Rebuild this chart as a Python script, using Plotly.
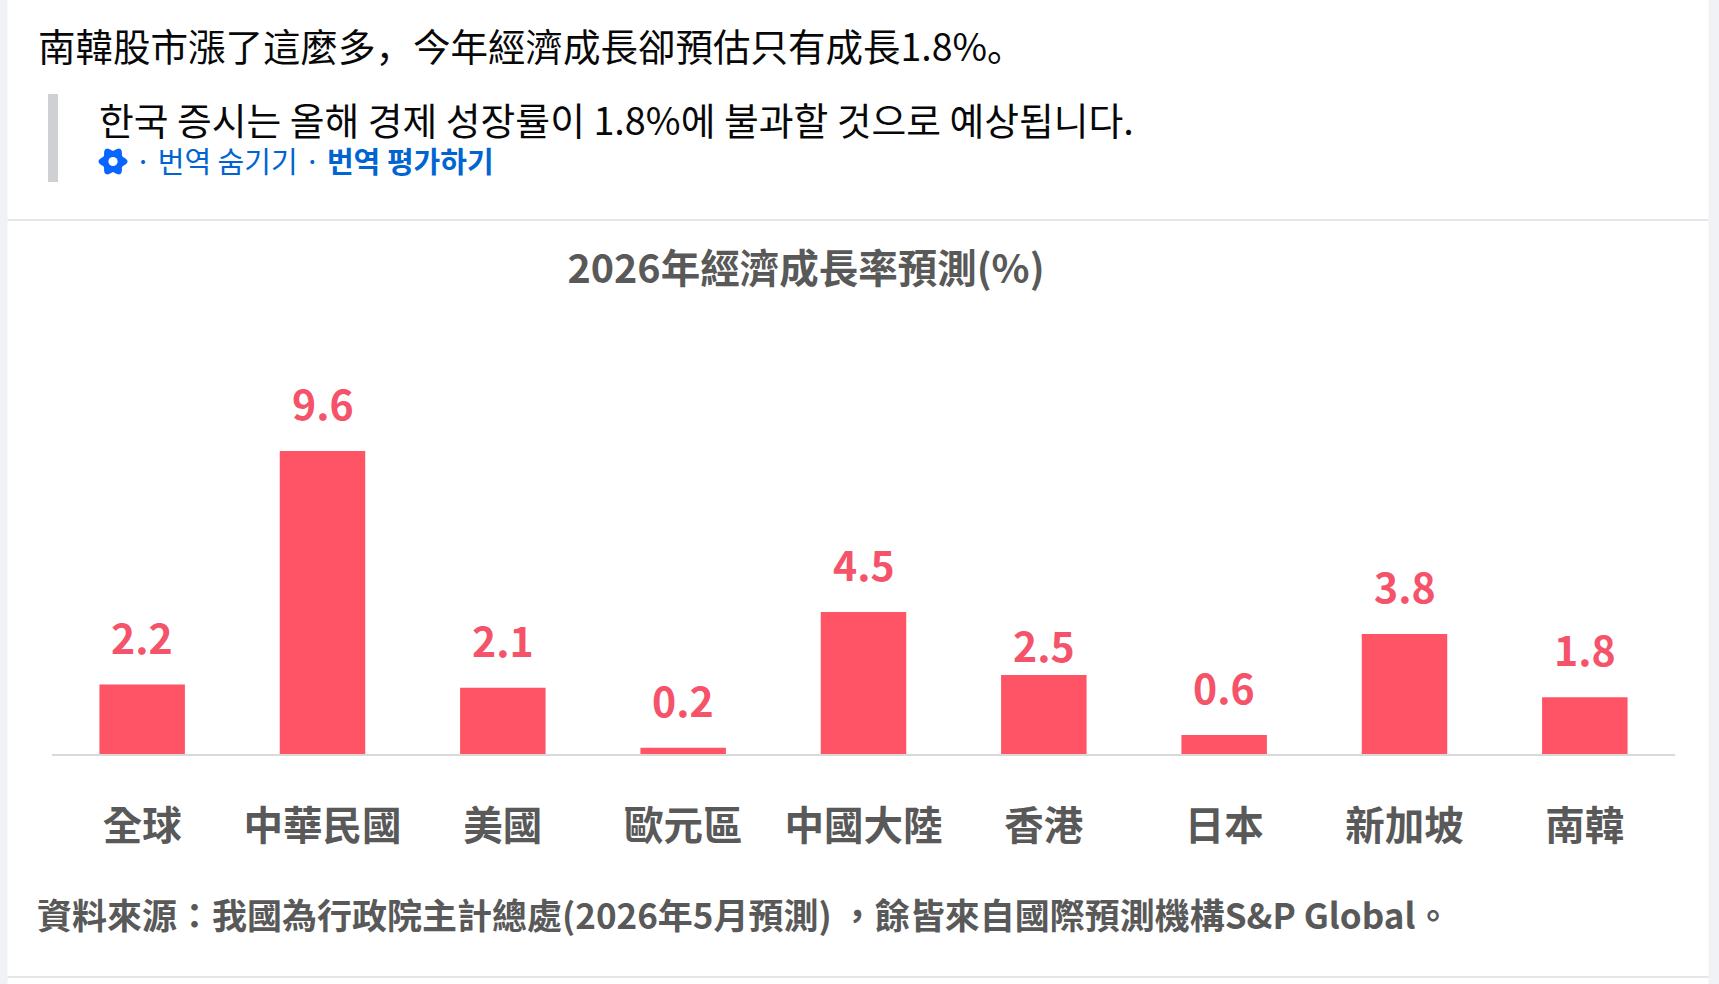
import math
import plotly.graph_objects as go

# ---- data ----
categories = ["全球", "中華民國", "美國", "歐元區", "中國大陸", "香港", "日本", "新加坡", "南韓"]
growth_2026 = [2.2, 9.6, 2.1, 0.2, 4.5, 2.5, 0.6, 3.8, 1.8]
value_labels = [f"{v:.1f}" for v in growth_2026]

post_text = "南韓股市漲了這麼多，今年經濟成長卻預估只有成長1.8%。"
translated_text = "한국 증시는 올해 경제 성장률이 1.8%에 불과할 것으로 예상됩니다."
translate_links = "· 번역 숨기기 · <b>번역 평가하기</b>"
chart_title = "2026年經濟成長率預測(%)"
source_note = "資料來源：我國為行政院主計總處(2026年5月預測) ，餘皆來自國際預測機構S&P Global。"

# ---- layout geometry (pixels) ----
W, H = 1719, 984
L, R, T, B = 52, 1675, 300, 754
PX_PER_UNIT = 31.56
YMAX = (B - T) / PX_PER_UNIT

def px(x):
    return (x - L) / (R - L)

def py(y):
    return (B - y) / (B - T)

BAR = "#FF5366"
LABEL_RED = "#F5536A"
GRAY_TXT = "#595959"
TC = "Noto Sans CJK TC"
SC = "Noto Sans CJK SC"
KR = "Noto Sans CJK KR"

# the source chart sets the 香港 label a little lower than the others
label_shift = {"香港": -18}

fig = go.Figure()
fig.add_trace(go.Bar(
    x=categories, y=growth_2026,
    marker=dict(color=BAR, line=dict(width=0)),
    hoverinfo="skip",
))

annotations = []
for c, v, t in zip(categories, growth_2026, value_labels):
    annotations.append(dict(
        x=c, y=v, xref="x", yref="y", text=t, showarrow=False,
        yanchor="bottom", yshift=17 + label_shift.get(c, 0),
        font=dict(family=TC, size=41, color=LABEL_RED, weight=700),
    ))

# header texts
annotations += [
    dict(x=px(36), y=py(44), xref="paper", yref="paper", text=post_text,
         showarrow=False, xanchor="left", yanchor="middle",
         font=dict(family=SC, size=37.5, color="#080809")),
    dict(x=px(97), y=py(118), xref="paper", yref="paper", text=translated_text,
         showarrow=False, xanchor="left", yanchor="middle", height=42,
         font=dict(family=KR, size=37.8, color="#080809")),
    dict(x=px(133), y=py(160), xref="paper", yref="paper", text=translate_links,
         showarrow=False, xanchor="left", yanchor="middle", height=34,
         font=dict(family=KR, size=29, color="#0064D1")),
    dict(x=px(35), y=py(913), xref="paper", yref="paper", text=source_note,
         showarrow=False, xanchor="left", yanchor="middle",
         font=dict(family=TC, size=35, color=GRAY_TXT, weight=700)),
]

# gear icon path (pixel-sized, relative to anchor)
pts = []
for k in range(97):
    th = 2 * math.pi * k / 96
    r = 12.6 + 1.9 * math.cos(6 * th)
    pts.append((r * math.cos(th), r * math.sin(th)))
gear_path = "M " + " L ".join(f"{x:.2f},{y:.2f}" for x, y in pts) + " Z"

shapes = [
    # page background strips
    dict(type="rect", xref="paper", yref="paper", x0=px(0), x1=px(7.5), y0=py(0), y1=py(H),
         fillcolor="#F0F2F5", line=dict(width=0), layer="below"),
    dict(type="rect", xref="paper", yref="paper", x0=px(1708.5), x1=px(W), y0=py(0), y1=py(H),
         fillcolor="#F0F2F5", line=dict(width=0), layer="below"),
    # separator lines
    dict(type="line", xref="paper", yref="paper", x0=px(7.5), x1=px(1708.5), y0=py(220), y1=py(220),
         line=dict(color="#E4E6EB", width=2)),
    dict(type="line", xref="paper", yref="paper", x0=px(7.5), x1=px(1708.5), y0=py(977), y1=py(977),
         line=dict(color="#E4E6EB", width=2)),
    # quote bar
    dict(type="rect", xref="paper", yref="paper", x0=px(48), x1=px(58), y0=py(94), y1=py(182),
         fillcolor="#CED0D4", line=dict(width=0)),
    # gear
    dict(type="path", xref="paper", yref="paper", xsizemode="pixel", ysizemode="pixel",
         xanchor=px(113), yanchor=py(161.5), path=gear_path,
         fillcolor="#0866FF", line=dict(width=0)),
    dict(type="circle", xref="paper", yref="paper", xsizemode="pixel", ysizemode="pixel",
         xanchor=px(113), yanchor=py(161.5), x0=-4.6, x1=4.6, y0=-4.6, y1=4.6,
         fillcolor="white", line=dict(width=0)),
]

fig.update_layout(
    width=W, height=H,
    margin=dict(l=L, r=W - R, t=T, b=H - B, pad=0),
    paper_bgcolor="white", plot_bgcolor="white",
    showlegend=False,
    bargap=0.526,
    title=dict(text=chart_title, x=806 / W, xref="container", xanchor="center",
               y=1 - 269 / H, yref="container", yanchor="middle",
               font=dict(family=TC, size=39.5, color=GRAY_TXT, weight=700)),
    xaxis=dict(showline=True, linecolor="#D9D9D9", linewidth=2, ticks="",
               showgrid=False, zeroline=False, ticklabelstandoff=37,
               tickfont=dict(family=TC, size=39.5, color=GRAY_TXT, weight=700),
               fixedrange=True),
    yaxis=dict(visible=False, range=[0, YMAX], showgrid=False, zeroline=False, fixedrange=True),
    annotations=annotations,
    shapes=shapes,
    hovermode=False,
)

fig.write_html(
    "out.html",
    config={"displayModeBar": False, "staticPlot": True},
    post_script="document.body.style.margin='0';document.body.style.overflow='hidden';",
)
